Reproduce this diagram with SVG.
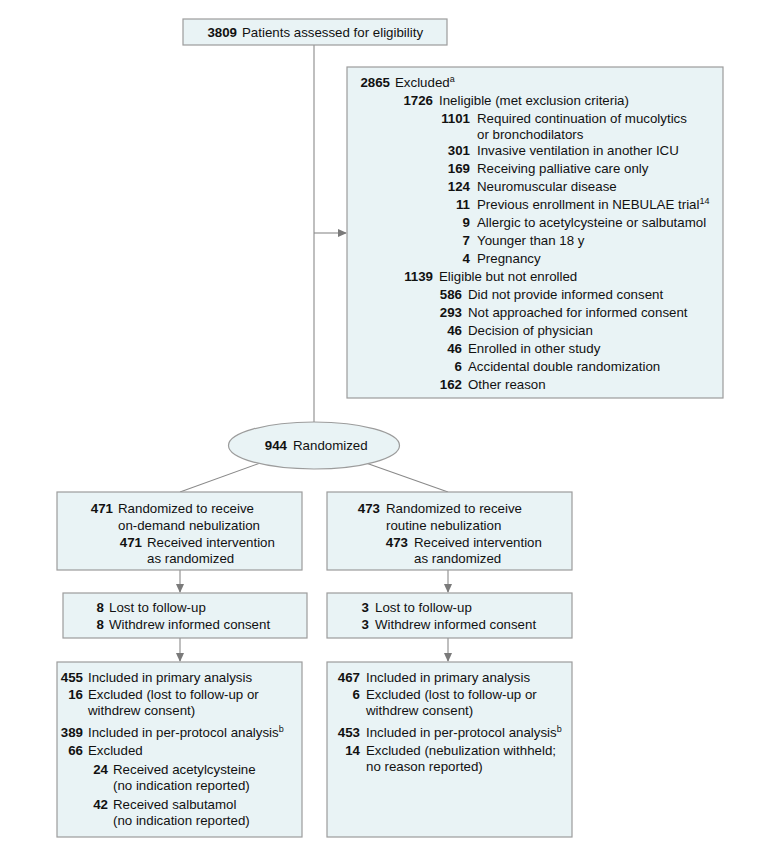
<svg xmlns="http://www.w3.org/2000/svg" width="780" height="850" viewBox="0 0 780 850">
<defs>
<marker id="ah" markerUnits="userSpaceOnUse" markerWidth="9" markerHeight="8" refX="8" refY="4" orient="auto">
<path d="M0,0 L9,4 L0,8 Z" fill="#7a7a7a"/>
</marker>
<style>
.box{fill:#e9f3f5;stroke:#9c9c9c;stroke-width:1.2}
.ln{stroke:#8a8a8a;stroke-width:1.1;fill:none}
text{font-family:"Liberation Sans",Arial,sans-serif;font-size:13.3px;fill:#111111}
.n{font-weight:bold;text-anchor:end}
.sup{font-size:9px}
</style>
</defs>
<rect width="780" height="850" fill="#ffffff"/>
<g id="connectors">
<line class="ln" x1="314" y1="45" x2="314" y2="422"/>
<line class="ln" x1="314" y1="233" x2="346" y2="233" marker-end="url(#ah)"/>
<line class="ln" x1="263" y1="462" x2="180" y2="492"/>
<line class="ln" x1="366" y1="463" x2="448" y2="492"/>
<line class="ln" x1="180" y1="570" x2="180" y2="592" marker-end="url(#ah)"/>
<line class="ln" x1="448" y1="570" x2="448" y2="592" marker-end="url(#ah)"/>
<line class="ln" x1="180" y1="638" x2="180" y2="661" marker-end="url(#ah)"/>
<line class="ln" x1="448" y1="638" x2="448" y2="661" marker-end="url(#ah)"/>
</g>
<g id="assessed">
<rect class="box" x="183" y="19" width="264" height="26"/>
<text class="n" x="237" y="37">3809</text>
<text x="242" y="37">Patients assessed for eligibility</text>
</g>
<g id="excluded">
<rect class="box" x="347" y="67" width="376" height="331"/>
<text class="n" x="390" y="87">2865</text>
<text x="395" y="87">Excluded<tspan class="sup" dy="-5">a</tspan></text>
<text class="n" x="433" y="105">1726</text>
<text x="439" y="105">Ineligible (met exclusion criteria)</text>
<text class="n" x="470" y="123">1101</text>
<text x="477" y="123">Required continuation of mucolytics</text>
<text x="477" y="139">or bronchodilators</text>
<text class="n" x="470" y="155">301</text>
<text x="477" y="155">Invasive ventilation in another ICU</text>
<text class="n" x="470" y="173">169</text>
<text x="477" y="173">Receiving palliative care only</text>
<text class="n" x="470" y="191">124</text>
<text x="477" y="191">Neuromuscular disease</text>
<text class="n" x="470" y="209">11</text>
<text x="477" y="209">Previous enrollment in NEBULAE trial<tspan class="sup" dy="-5">14</tspan></text>
<text class="n" x="470" y="227">9</text>
<text x="477" y="227">Allergic to acetylcysteine or salbutamol</text>
<text class="n" x="470" y="245">7</text>
<text x="477" y="245">Younger than 18 y</text>
<text class="n" x="470" y="263">4</text>
<text x="477" y="263">Pregnancy</text>
<text class="n" x="433" y="281">1139</text>
<text x="439" y="281">Eligible but not enrolled</text>
<text class="n" x="462" y="299">586</text>
<text x="468" y="299">Did not provide informed consent</text>
<text class="n" x="462" y="317">293</text>
<text x="468" y="317">Not approached for informed consent</text>
<text class="n" x="462" y="335">46</text>
<text x="468" y="335">Decision of physician</text>
<text class="n" x="462" y="353">46</text>
<text x="468" y="353">Enrolled in other study</text>
<text class="n" x="462" y="371">6</text>
<text x="468" y="371">Accidental double randomization</text>
<text class="n" x="462" y="389">162</text>
<text x="468" y="389">Other reason</text>
</g>
<g id="randomized">
<ellipse class="box" cx="314" cy="445.5" rx="85.5" ry="23.5"/>
<text class="n" x="287" y="450">944</text>
<text x="293" y="450">Randomized</text>
</g>
<g id="ondemand">
<rect class="box" x="57" y="492" width="245" height="78"/>
<text class="n" x="113" y="513">471</text>
<text x="118" y="513">Randomized to receive</text>
<text x="118" y="530">on-demand nebulization</text>
<text class="n" x="142" y="547">471</text>
<text x="147" y="547">Received intervention</text>
<text x="147" y="563">as randomized</text>
</g>
<g id="routine">
<rect class="box" x="327" y="492" width="245" height="78"/>
<text class="n" x="380" y="513">473</text>
<text x="386" y="513">Randomized to receive</text>
<text x="386" y="530">routine nebulization</text>
<text class="n" x="408" y="547">473</text>
<text x="414" y="547">Received intervention</text>
<text x="414" y="563">as randomized</text>
</g>
<g id="lost-left">
<rect class="box" x="63" y="593" width="244" height="45"/>
<text class="n" x="104" y="612">8</text>
<text x="109" y="612">Lost to follow-up</text>
<text class="n" x="104" y="629">8</text>
<text x="109" y="629">Withdrew informed consent</text>
</g>
<g id="lost-right">
<rect class="box" x="327" y="593" width="245" height="45"/>
<text class="n" x="369" y="612">3</text>
<text x="375" y="612">Lost to follow-up</text>
<text class="n" x="369" y="629">3</text>
<text x="375" y="629">Withdrew informed consent</text>
</g>
<g id="analysis-left">
<rect class="box" x="57" y="662" width="245" height="175"/>
<text class="n" x="83" y="682">455</text>
<text x="88" y="682">Included in primary analysis</text>
<text class="n" x="83" y="699">16</text>
<text x="88" y="699">Excluded (lost to follow-up or</text>
<text x="88" y="715">withdrew consent)</text>
<text class="n" x="83" y="737">389</text>
<text x="88" y="737">Included in per-protocol analysis<tspan class="sup" dy="-5">b</tspan></text>
<text class="n" x="83" y="755">66</text>
<text x="88" y="755">Excluded</text>
<text class="n" x="108" y="774">24</text>
<text x="113" y="774">Received acetylcysteine</text>
<text x="113" y="790">(no indication reported)</text>
<text class="n" x="108" y="809">42</text>
<text x="113" y="809">Received salbutamol</text>
<text x="113" y="825">(no indication reported)</text>
</g>
<g id="analysis-right">
<rect class="box" x="327" y="662" width="245" height="175"/>
<text class="n" x="360" y="682">467</text>
<text x="366" y="682">Included in primary analysis</text>
<text class="n" x="360" y="699">6</text>
<text x="366" y="699">Excluded (lost to follow-up or</text>
<text x="366" y="715">withdrew consent)</text>
<text class="n" x="360" y="737">453</text>
<text x="366" y="737">Included in per-protocol analysis<tspan class="sup" dy="-5">b</tspan></text>
<text class="n" x="360" y="755">14</text>
<text x="366" y="755">Excluded (nebulization withheld;</text>
<text x="366" y="771">no reason reported)</text>
</g>
</svg>
